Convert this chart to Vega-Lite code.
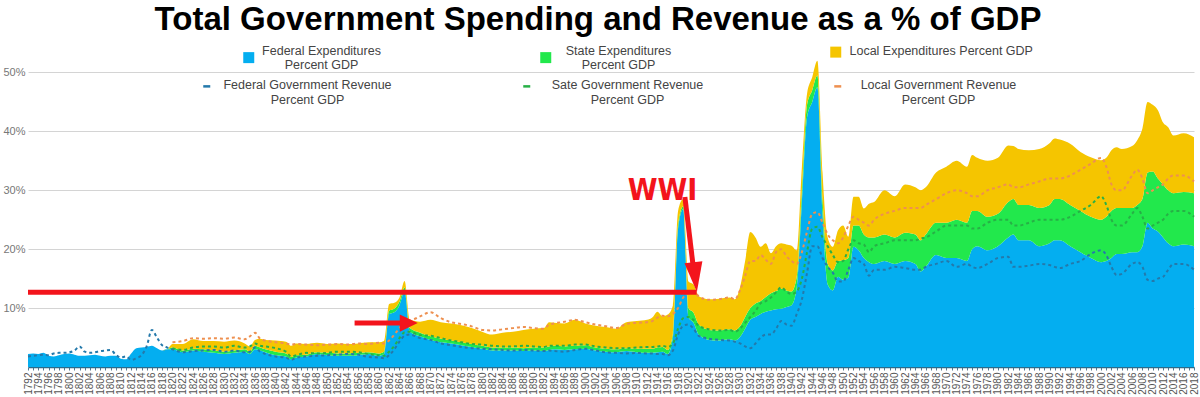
{
  "$schema": "https://vega.github.io/schema/vega-lite/v6.json",
  "width": 1166,
  "height": 324,
  "autosize": {"type": "none"},
  "padding": {"left": 28, "top": 43, "right": 6, "bottom": 30},
  "background": "white",
  "config": {"view": {"stroke": null}, "font": "Liberation Sans"},
  "title": {"text": "Total Government Spending and Revenue as a % of GDP", "font": "Liberation Sans", "fontSize": 33, "fontWeight": "bold", "color": "#000000", "anchor": "middle", "frame": "group", "offset": 6, "dx": -13},
  "datasets": {
    "seriesOrder": [{"series": "fed", "rank": 1}, {"series": "state", "rank": 2}, {"series": "local", "rank": 3}],
    "redLines": [
      {"year": 1792, "year2": 1921.6, "pct": 12.7, "pct2": 12.7},
      {"year": 1855.3, "year2": 1864.5, "pct": 7.45, "pct2": 7.45},
      {"year": 1919.32, "year2": 1920.9, "pct": 28.86, "pct2": 17.3}
    ],
    "redHeads": [
      {"year": 1865.8, "pct": 7.45, "dir": "right"},
      {"year": 1921.31, "pct": 15.26, "dir": "down"}
    ],
    "notes": [{"year": 1915.0, "pct": 29.9, "label": "WWI"}],
    "gov": [
      {"year":1792,"fed":2.2,"state":0,"local":0,"fedRev":1.8,"stateRev":null,"localRev":null},
      {"year":1793,"fed":2.3,"state":0,"local":0,"fedRev":1.9,"stateRev":null,"localRev":null},
      {"year":1794,"fed":2.2,"state":0,"local":0,"fedRev":2.0,"stateRev":null,"localRev":null},
      {"year":1795,"fed":2.4,"state":0,"local":0,"fedRev":2.1,"stateRev":null,"localRev":null},
      {"year":1796,"fed":1.9,"state":0,"local":0,"fedRev":2.0,"stateRev":null,"localRev":null},
      {"year":1797,"fed":1.8,"state":0,"local":0,"fedRev":2.3,"stateRev":null,"localRev":null},
      {"year":1798,"fed":2.0,"state":0,"local":0,"fedRev":2.4,"stateRev":null,"localRev":null},
      {"year":1799,"fed":2.2,"state":0,"local":0,"fedRev":2.4,"stateRev":null,"localRev":null},
      {"year":1800,"fed":2.3,"state":0,"local":0,"fedRev":2.5,"stateRev":null,"localRev":null},
      {"year":1801,"fed":2.1,"state":0,"local":0,"fedRev":2.8,"stateRev":null,"localRev":null},
      {"year":1802,"fed":1.9,"state":0,"local":0,"fedRev":3.5,"stateRev":null,"localRev":null},
      {"year":1803,"fed":1.9,"state":0,"local":0,"fedRev":2.6,"stateRev":null,"localRev":null},
      {"year":1804,"fed":2.0,"state":0,"local":0,"fedRev":2.4,"stateRev":null,"localRev":null},
      {"year":1805,"fed":2.1,"state":0,"local":0,"fedRev":2.5,"stateRev":null,"localRev":null},
      {"year":1806,"fed":1.9,"state":0,"local":0,"fedRev":2.7,"stateRev":null,"localRev":null},
      {"year":1807,"fed":1.8,"state":0,"local":0,"fedRev":2.8,"stateRev":null,"localRev":null},
      {"year":1808,"fed":1.9,"state":0,"local":0,"fedRev":2.9,"stateRev":null,"localRev":null},
      {"year":1809,"fed":1.9,"state":0,"local":0,"fedRev":2.1,"stateRev":null,"localRev":null},
      {"year":1810,"fed":1.4,"state":0,"local":0,"fedRev":1.6,"stateRev":null,"localRev":null},
      {"year":1811,"fed":1.3,"state":0,"local":0,"fedRev":1.8,"stateRev":null,"localRev":null},
      {"year":1812,"fed":2.3,"state":0,"local":0,"fedRev":1.2,"stateRev":null,"localRev":null},
      {"year":1813,"fed":3.2,"state":0,"local":0,"fedRev":1.5,"stateRev":null,"localRev":null},
      {"year":1814,"fed":3.3,"state":0,"local":0,"fedRev":2.0,"stateRev":null,"localRev":null},
      {"year":1815,"fed":3.4,"state":0,"local":0,"fedRev":3.5,"stateRev":null,"localRev":null},
      {"year":1816,"fed":3.6,"state":0,"local":0,"fedRev":6.3,"stateRev":null,"localRev":null},
      {"year":1817,"fed":3.2,"state":0,"local":0,"fedRev":5.0,"stateRev":null,"localRev":null},
      {"year":1818,"fed":2.8,"state":0,"local":0,"fedRev":3.7,"stateRev":null,"localRev":null},
      {"year":1819,"fed":3.0,"state":0,"local":0,"fedRev":3.3,"stateRev":null,"localRev":null},
      {"year":1820,"fed":3.0,"state":0.3,"local":0.6,"fedRev":3.0,"stateRev":3.2,"localRev":4.2},
      {"year":1822,"fed":2.5,"state":0.3,"local":1.1,"fedRev":2.5,"stateRev":2.9,"localRev":4.4},
      {"year":1824,"fed":2.8,"state":0.3,"local":1.6,"fedRev":2.7,"stateRev":3.3,"localRev":4.9},
      {"year":1826,"fed":2.6,"state":0.4,"local":1.4,"fedRev":2.8,"stateRev":3.5,"localRev":4.8},
      {"year":1828,"fed":2.4,"state":0.4,"local":1.6,"fedRev":2.9,"stateRev":3.5,"localRev":4.9},
      {"year":1830,"fed":2.2,"state":0.4,"local":1.7,"fedRev":2.6,"stateRev":3.3,"localRev":4.8},
      {"year":1832,"fed":2.4,"state":0.4,"local":1.7,"fedRev":2.8,"stateRev":3.6,"localRev":5.0},
      {"year":1834,"fed":2.6,"state":0.4,"local":1.0,"fedRev":2.5,"stateRev":3.3,"localRev":4.7},
      {"year":1835,"fed":2.2,"state":0.4,"local":0.9,"fedRev":2.6,"stateRev":3.5,"localRev":5.2},
      {"year":1836,"fed":3.0,"state":0.6,"local":1.0,"fedRev":3.3,"stateRev":4.0,"localRev":5.8},
      {"year":1837,"fed":2.8,"state":0.5,"local":1.5,"fedRev":2.6,"stateRev":3.6,"localRev":4.8},
      {"year":1838,"fed":2.5,"state":0.5,"local":1.6,"fedRev":2.2,"stateRev":3.5,"localRev":4.5},
      {"year":1840,"fed":2.0,"state":0.6,"local":1.9,"fedRev":1.8,"stateRev":3.2,"localRev":4.2},
      {"year":1842,"fed":1.8,"state":0.5,"local":2.0,"fedRev":1.6,"stateRev":2.6,"localRev":4.0},
      {"year":1843,"fed":1.3,"state":0.4,"local":1.9,"fedRev":1.2,"stateRev":1.8,"localRev":3.8},
      {"year":1844,"fed":1.6,"state":0.4,"local":2.0,"fedRev":1.6,"stateRev":2.0,"localRev":3.9},
      {"year":1846,"fed":1.8,"state":0.3,"local":1.8,"fedRev":1.8,"stateRev":2.4,"localRev":3.8},
      {"year":1848,"fed":2.2,"state":0.3,"local":1.6,"fedRev":1.9,"stateRev":2.3,"localRev":3.7},
      {"year":1850,"fed":2.0,"state":0.4,"local":1.5,"fedRev":2.0,"stateRev":2.4,"localRev":3.8},
      {"year":1852,"fed":1.9,"state":0.4,"local":1.7,"fedRev":2.1,"stateRev":2.6,"localRev":3.9},
      {"year":1854,"fed":1.9,"state":0.4,"local":1.6,"fedRev":2.2,"stateRev":2.6,"localRev":3.8},
      {"year":1856,"fed":2.0,"state":0.4,"local":1.6,"fedRev":2.1,"stateRev":2.5,"localRev":4.0},
      {"year":1858,"fed":2.2,"state":0.3,"local":1.7,"fedRev":1.7,"stateRev":2.2,"localRev":3.9},
      {"year":1860,"fed":1.9,"state":0.4,"local":1.9,"fedRev":1.6,"stateRev":2.0,"localRev":4.1},
      {"year":1861,"fed":2.2,"state":0.4,"local":1.8,"fedRev":1.5,"stateRev":1.9,"localRev":4.0},
      {"year":1862,"fed":9.0,"state":0.6,"local":1.1,"fedRev":2.0,"stateRev":2.6,"localRev":4.5},
      {"year":1863,"fed":9.3,"state":0.6,"local":1.0,"fedRev":3.0,"stateRev":3.6,"localRev":5.5},
      {"year":1864,"fed":10.5,"state":0.6,"local":0.7,"fedRev":4.3,"stateRev":4.9,"localRev":6.6},
      {"year":1865,"fed":12.8,"state":0.7,"local":1.1,"fedRev":5.3,"stateRev":5.9,"localRev":7.6},
      {"year":1866,"fed":6.0,"state":0.6,"local":1.4,"fedRev":5.5,"stateRev":6.0,"localRev":7.8},
      {"year":1868,"fed":5.2,"state":0.6,"local":1.9,"fedRev":4.9,"stateRev":5.4,"localRev":8.6},
      {"year":1870,"fed":4.6,"state":0.6,"local":2.8,"fedRev":4.6,"stateRev":5.3,"localRev":9.3},
      {"year":1872,"fed":4.2,"state":0.6,"local":2.8,"fedRev":4.0,"stateRev":4.9,"localRev":8.3},
      {"year":1874,"fed":4.0,"state":0.5,"local":2.9,"fedRev":3.7,"stateRev":4.5,"localRev":7.6},
      {"year":1876,"fed":3.7,"state":0.5,"local":2.9,"fedRev":3.4,"stateRev":4.2,"localRev":7.3},
      {"year":1878,"fed":3.4,"state":0.5,"local":2.7,"fedRev":3.2,"stateRev":3.9,"localRev":6.9},
      {"year":1880,"fed":3.1,"state":0.5,"local":2.4,"fedRev":3.1,"stateRev":3.8,"localRev":6.3},
      {"year":1882,"fed":2.8,"state":0.5,"local":2.2,"fedRev":3.0,"stateRev":3.6,"localRev":6.2},
      {"year":1884,"fed":2.8,"state":0.5,"local":2.5,"fedRev":2.9,"stateRev":3.5,"localRev":6.4},
      {"year":1886,"fed":2.8,"state":0.5,"local":2.7,"fedRev":2.8,"stateRev":3.5,"localRev":6.6},
      {"year":1888,"fed":2.7,"state":0.5,"local":3.1,"fedRev":2.9,"stateRev":3.6,"localRev":6.8},
      {"year":1890,"fed":2.8,"state":0.5,"local":3.2,"fedRev":2.8,"stateRev":3.5,"localRev":6.6},
      {"year":1892,"fed":2.7,"state":0.6,"local":3.3,"fedRev":2.7,"stateRev":3.4,"localRev":6.5},
      {"year":1893,"fed":2.9,"state":0.6,"local":4.1,"fedRev":2.8,"stateRev":3.6,"localRev":7.2},
      {"year":1894,"fed":3.0,"state":0.6,"local":3.9,"fedRev":2.7,"stateRev":3.6,"localRev":7.4},
      {"year":1896,"fed":2.9,"state":0.6,"local":3.9,"fedRev":2.6,"stateRev":3.6,"localRev":7.7},
      {"year":1898,"fed":3.0,"state":0.6,"local":4.4,"fedRev":2.9,"stateRev":3.8,"localRev":8.0},
      {"year":1900,"fed":3.1,"state":0.6,"local":3.7,"fedRev":3.1,"stateRev":3.8,"localRev":7.6},
      {"year":1902,"fed":2.8,"state":0.5,"local":3.7,"fedRev":2.8,"stateRev":3.5,"localRev":7.2},
      {"year":1904,"fed":2.6,"state":0.5,"local":3.7,"fedRev":2.5,"stateRev":3.3,"localRev":6.9},
      {"year":1906,"fed":2.5,"state":0.5,"local":3.5,"fedRev":2.4,"stateRev":3.2,"localRev":6.6},
      {"year":1908,"fed":2.7,"state":0.5,"local":4.4,"fedRev":2.3,"stateRev":3.2,"localRev":7.3},
      {"year":1910,"fed":2.5,"state":0.6,"local":4.7,"fedRev":2.4,"stateRev":3.3,"localRev":7.5},
      {"year":1912,"fed":2.4,"state":0.7,"local":4.9,"fedRev":2.3,"stateRev":3.4,"localRev":7.6},
      {"year":1913,"fed":2.4,"state":0.7,"local":5.3,"fedRev":2.3,"stateRev":3.4,"localRev":7.8},
      {"year":1914,"fed":2.5,"state":0.8,"local":6.1,"fedRev":2.2,"stateRev":3.5,"localRev":8.4},
      {"year":1915,"fed":2.6,"state":0.8,"local":5.2,"fedRev":2.2,"stateRev":3.6,"localRev":8.7},
      {"year":1916,"fed":2.2,"state":0.7,"local":6.0,"fedRev":2.0,"stateRev":3.4,"localRev":8.6},
      {"year":1917,"fed":5.0,"state":0.7,"local":4.8,"fedRev":2.8,"stateRev":4.0,"localRev":9.0},
      {"year":1918,"fed":23.5,"state":0.7,"local":2.3,"fedRev":5.5,"stateRev":6.5,"localRev":10.0},
      {"year":1919,"fed":26.8,"state":0.5,"local":1.2,"fedRev":7.0,"stateRev":8.3,"localRev":11.8},
      {"year":1920,"fed":8.5,"state":1.5,"local":4.5,"fedRev":7.2,"stateRev":8.5,"localRev":12.5},
      {"year":1921,"fed":7.5,"state":1.7,"local":4.8,"fedRev":6.5,"stateRev":8.0,"localRev":12.8},
      {"year":1922,"fed":5.5,"state":1.7,"local":4.8,"fedRev":5.3,"stateRev":7.0,"localRev":12.0},
      {"year":1924,"fed":4.6,"state":1.7,"local":5.2,"fedRev":4.8,"stateRev":6.4,"localRev":11.4},
      {"year":1926,"fed":4.5,"state":1.7,"local":5.4,"fedRev":4.6,"stateRev":6.2,"localRev":11.5},
      {"year":1928,"fed":4.7,"state":1.7,"local":5.4,"fedRev":4.5,"stateRev":6.3,"localRev":11.8},
      {"year":1929,"fed":4.5,"state":1.7,"local":5.3,"fedRev":4.3,"stateRev":6.0,"localRev":11.5},
      {"year":1930,"fed":5.1,"state":1.8,"local":6.6,"fedRev":4.0,"stateRev":6.5,"localRev":13.0},
      {"year":1931,"fed":6.5,"state":2.0,"local":9.5,"fedRev":3.5,"stateRev":7.5,"localRev":15.5},
      {"year":1932,"fed":8.0,"state":2.0,"local":12.9,"fedRev":3.2,"stateRev":8.5,"localRev":18.0},
      {"year":1933,"fed":8.5,"state":2.3,"local":11.2,"fedRev":4.0,"stateRev":9.5,"localRev":18.0},
      {"year":1934,"fed":9.0,"state":2.2,"local":9.2,"fedRev":5.0,"stateRev":10.8,"localRev":19.0},
      {"year":1935,"fed":9.4,"state":2.5,"local":9.1,"fedRev":5.5,"stateRev":11.2,"localRev":18.2},
      {"year":1936,"fed":9.6,"state":2.9,"local":6.8,"fedRev":5.5,"stateRev":11.8,"localRev":17.5},
      {"year":1937,"fed":9.8,"state":3.1,"local":7.6,"fedRev":6.5,"stateRev":12.7,"localRev":19.5},
      {"year":1938,"fed":9.9,"state":3.4,"local":7.7,"fedRev":7.8,"stateRev":13.5,"localRev":20.0},
      {"year":1939,"fed":10.2,"state":2.8,"local":7.8,"fedRev":7.2,"stateRev":12.8,"localRev":18.8},
      {"year":1940,"fed":10.5,"state":2.3,"local":7.8,"fedRev":7.0,"stateRev":12.4,"localRev":18.0},
      {"year":1941,"fed":13.5,"state":1.8,"local":4.5,"fedRev":9.0,"stateRev":12.8,"localRev":17.5},
      {"year":1942,"fed":28.0,"state":2.0,"local":4.0,"fedRev":11.5,"stateRev":15.0,"localRev":19.5},
      {"year":1943,"fed":42.4,"state":2.1,"local":1.9,"fedRev":16.0,"stateRev":19.5,"localRev":23.0},
      {"year":1944,"fed":45.0,"state":2.0,"local":2.2,"fedRev":20.5,"stateRev":23.5,"localRev":26.0},
      {"year":1945,"fed":47.5,"state":2.0,"local":2.5,"fedRev":20.5,"stateRev":23.8,"localRev":26.3},
      {"year":1946,"fed":26.0,"state":2.5,"local":4.5,"fedRev":18.5,"stateRev":22.0,"localRev":24.5},
      {"year":1947,"fed":14.0,"state":3.5,"local":4.5,"fedRev":17.0,"stateRev":20.5,"localRev":22.5},
      {"year":1948,"fed":13.0,"state":3.4,"local":4.0,"fedRev":16.0,"stateRev":19.0,"localRev":21.5},
      {"year":1949,"fed":15.3,"state":2.7,"local":5.2,"fedRev":14.5,"stateRev":17.8,"localRev":21.0},
      {"year":1950,"fed":14.8,"state":3.3,"local":5.9,"fedRev":14.5,"stateRev":18.0,"localRev":22.0},
      {"year":1951,"fed":15.2,"state":3.3,"local":3.6,"fedRev":16.5,"stateRev":20.0,"localRev":24.0},
      {"year":1952,"fed":20.4,"state":3.6,"local":4.9,"fedRev":18.5,"stateRev":21.5,"localRev":25.5},
      {"year":1953,"fed":19.8,"state":4.2,"local":4.9,"fedRev":18.0,"stateRev":21.0,"localRev":25.0},
      {"year":1954,"fed":18.5,"state":4.0,"local":4.4,"fedRev":17.5,"stateRev":20.8,"localRev":24.5},
      {"year":1955,"fed":17.8,"state":4.2,"local":5.7,"fedRev":15.5,"stateRev":19.5,"localRev":24.0},
      {"year":1956,"fed":17.5,"state":4.5,"local":6.0,"fedRev":16.5,"stateRev":20.5,"localRev":25.0},
      {"year":1958,"fed":18.0,"state":4.5,"local":7.5,"fedRev":16.5,"stateRev":21.0,"localRev":26.0},
      {"year":1960,"fed":17.5,"state":4.5,"local":7.0,"fedRev":17.0,"stateRev":21.5,"localRev":26.5},
      {"year":1962,"fed":18.0,"state":4.8,"local":8.2,"fedRev":16.8,"stateRev":21.5,"localRev":27.0},
      {"year":1964,"fed":17.5,"state":5.0,"local":8.0,"fedRev":16.5,"stateRev":21.5,"localRev":27.0},
      {"year":1965,"fed":16.2,"state":5.3,"local":8.5,"fedRev":16.5,"stateRev":21.8,"localRev":27.0},
      {"year":1966,"fed":17.0,"state":5.5,"local":8.0,"fedRev":17.0,"stateRev":22.0,"localRev":27.5},
      {"year":1968,"fed":19.0,"state":5.5,"local":8.5,"fedRev":17.5,"stateRev":23.0,"localRev":28.5},
      {"year":1970,"fed":18.5,"state":6.0,"local":9.5,"fedRev":18.0,"stateRev":24.0,"localRev":29.5},
      {"year":1972,"fed":18.5,"state":6.5,"local":10.0,"fedRev":17.0,"stateRev":24.0,"localRev":30.0},
      {"year":1974,"fed":18.0,"state":6.5,"local":9.5,"fedRev":17.5,"stateRev":24.0,"localRev":29.5},
      {"year":1975,"fed":20.0,"state":6.5,"local":9.5,"fedRev":17.0,"stateRev":23.5,"localRev":29.0},
      {"year":1976,"fed":20.5,"state":6.0,"local":9.0,"fedRev":16.8,"stateRev":23.5,"localRev":29.0},
      {"year":1978,"fed":19.8,"state":5.7,"local":9.5,"fedRev":17.5,"stateRev":24.5,"localRev":30.0},
      {"year":1980,"fed":20.5,"state":5.5,"local":9.5,"fedRev":18.5,"stateRev":25.0,"localRev":30.5},
      {"year":1982,"fed":22.0,"state":6.0,"local":9.6,"fedRev":18.7,"stateRev":25.0,"localRev":31.0},
      {"year":1983,"fed":22.5,"state":6.0,"local":9.0,"fedRev":17.0,"stateRev":24.0,"localRev":30.5},
      {"year":1984,"fed":21.5,"state":6.0,"local":9.5,"fedRev":17.0,"stateRev":24.0,"localRev":30.5},
      {"year":1986,"fed":21.5,"state":6.0,"local":9.3,"fedRev":17.2,"stateRev":24.5,"localRev":31.0},
      {"year":1988,"fed":20.5,"state":6.5,"local":10.0,"fedRev":17.5,"stateRev":25.0,"localRev":31.5},
      {"year":1990,"fed":21.0,"state":6.5,"local":10.5,"fedRev":17.3,"stateRev":25.0,"localRev":32.0},
      {"year":1991,"fed":21.5,"state":7.0,"local":10.3,"fedRev":17.0,"stateRev":25.0,"localRev":32.0},
      {"year":1992,"fed":21.5,"state":7.0,"local":10.1,"fedRev":16.8,"stateRev":25.0,"localRev":32.0},
      {"year":1994,"fed":20.5,"state":7.0,"local":10.4,"fedRev":17.5,"stateRev":25.5,"localRev":32.5},
      {"year":1996,"fed":19.5,"state":7.0,"local":10.0,"fedRev":18.0,"stateRev":26.5,"localRev":33.5},
      {"year":1998,"fed":18.5,"state":7.0,"local":10.1,"fedRev":19.2,"stateRev":27.5,"localRev":34.5},
      {"year":2000,"fed":17.8,"state":7.2,"local":10.1,"fedRev":19.8,"stateRev":29.0,"localRev":35.5},
      {"year":2001,"fed":18.0,"state":7.5,"local":10.0,"fedRev":19.0,"stateRev":27.5,"localRev":34.0},
      {"year":2002,"fed":18.5,"state":8.0,"local":10.3,"fedRev":17.0,"stateRev":25.0,"localRev":31.0},
      {"year":2003,"fed":19.2,"state":7.8,"local":10.3,"fedRev":15.6,"stateRev":24.0,"localRev":30.0},
      {"year":2004,"fed":19.2,"state":7.8,"local":10.0,"fedRev":15.8,"stateRev":24.0,"localRev":30.0},
      {"year":2006,"fed":19.5,"state":7.5,"local":10.5,"fedRev":17.5,"stateRev":26.0,"localRev":32.5},
      {"year":2007,"fed":19.5,"state":8.0,"local":11.0,"fedRev":17.8,"stateRev":27.0,"localRev":33.5},
      {"year":2008,"fed":20.5,"state":8.0,"local":12.0,"fedRev":17.0,"stateRev":25.5,"localRev":32.0},
      {"year":2009,"fed":24.5,"state":8.5,"local":12.0,"fedRev":14.8,"stateRev":23.5,"localRev":29.5},
      {"year":2010,"fed":23.5,"state":9.7,"local":11.3,"fedRev":14.6,"stateRev":24.0,"localRev":30.0},
      {"year":2011,"fed":23.0,"state":9.0,"local":11.6,"fedRev":15.0,"stateRev":24.5,"localRev":30.5},
      {"year":2012,"fed":22.0,"state":9.0,"local":10.5,"fedRev":15.3,"stateRev":25.0,"localRev":31.0},
      {"year":2013,"fed":21.0,"state":9.0,"local":10.7,"fedRev":16.5,"stateRev":26.0,"localRev":32.0},
      {"year":2014,"fed":20.5,"state":9.0,"local":9.8,"fedRev":17.5,"stateRev":26.5,"localRev":32.5},
      {"year":2016,"fed":20.8,"state":8.9,"local":10.0,"fedRev":17.5,"stateRev":26.5,"localRev":32.5},
      {"year":2018,"fed":20.5,"state":9.0,"local":9.5,"fedRev":16.5,"stateRev":25.5,"localRev":31.5}
    ]
  },
  "layer": [
    {
      "data": {"name": "gov"},
      "transform": [
        {"fold": ["fed", "state", "local"], "as": ["series", "pct"]},
        {"lookup": "series", "from": {"data": {"name": "seriesOrder"}, "key": "series", "fields": ["rank"]}}
      ],
      "mark": {"type": "area", "interpolate": "monotone"},
      "encoding": {
        "x": {
          "field": "year", "type": "quantitative", "title": null,
          "scale": {"domain": [1792, 2018], "nice": false, "zero": false},
          "axis": {
            "tickCount": 226,
            "labelExpr": "datum.value % 2 === 0 ? format(datum.value, 'd') : ''",
            "labelAngle": 270, "labelAlign": "right", "labelBaseline": "middle",
            "labelOverlap": false, "labelFlush": false, "labelPadding": 2,
            "labelFontSize": 10, "labelColor": "#555555", "labelFont": "Liberation Sans",
            "ticks": true, "tickSize": 3, "tickColor": "#557a90", "tickWidth": 1,
            "domain": true, "domainColor": "#2b6c8c", "domainWidth": 1.5, "grid": false
          }
        },
        "y": {
          "field": "pct", "type": "quantitative", "title": null, "stack": "zero",
          "scale": {"domain": [0, 55], "nice": false},
          "axis": {
            "values": [10, 20, 30, 40, 50],
            "labelExpr": "datum.value + '%'",
            "grid": true, "gridColor": "#d4d4d4", "gridWidth": 1,
            "domain": false, "ticks": false, "labelPadding": 3,
            "labelFontSize": 11, "labelColor": "#777777", "labelFont": "Liberation Sans"
          }
        },
        "color": {
          "field": "series", "type": "nominal",
          "scale": {"domain": ["fed", "state", "local"], "range": ["#04aef0", "#22e84c", "#f5c500"]},
          "legend": {
            "title": null, "orient": "none", "legendX": 214.5, "legendY": 8,
            "direction": "horizontal", "columns": 3, "columnPadding": 158, "padding": 0,
            "symbolType": "square", "symbolSize": 121, "symbolStrokeWidth": 0, "symbolOpacity": 1,
            "labelFont": "Liberation Sans", "labelFontSize": 12.5, "labelColor": "#444444",
            "labelAlign": "center", "labelOffset": 66.5, "labelLimit": 400,
            "labelExpr": "datum.value == 'fed' ? ['Federal Expenditures', 'Percent GDP'] : datum.value == 'state' ? ['State Expenditures', 'Percent GDP'] : ['Local Expenditures Percent GDP', '']",
            "encode": {
              "labels": {"update": {
                "align": {"signal": "datum.value == 'local' ? 'left' : 'center'"},
                "dx": {"signal": "datum.value == 'local' ? -59 : 0"},
                "dy": {"value": -7},
                "lineHeight": {"value": 14.5}
              }},
              "symbols": {"update": {
                "shape": {"signal": "datum.value == 'local' ? 'M -1 -2 L 1 -2 L 1 0 L -1 0 Z' : 'square'"}
              }}
            }
          }
        },
        "order": {"field": "rank", "type": "quantitative"}
      }
    },
    {
      "data": {"name": "gov"},
      "transform": [{"fold": ["fedRev", "stateRev", "localRev"], "as": ["rseries", "rpct"]}],
      "mark": {"type": "line", "interpolate": "monotone", "strokeDash": [3, 3], "strokeWidth": 2},
      "encoding": {
        "x": {"field": "year", "type": "quantitative", "title": null},
        "y": {"field": "rpct", "type": "quantitative", "title": null},
        "stroke": {
          "field": "rseries", "type": "nominal",
          "scale": {"domain": ["fedRev", "stateRev", "localRev"], "range": ["#2479ab", "#27b046", "#ee9050"]},
          "legend": {
            "title": null, "orient": "none", "legendX": 172.5, "legendY": 37,
            "direction": "horizontal", "columns": 3, "columnPadding": 125, "padding": 0,
            "symbolType": "stroke", "symbolSize": 49, "symbolStrokeWidth": 2.5, "symbolDash": [10, 0],
            "labelFont": "Liberation Sans", "labelFontSize": 12.5, "labelColor": "#444444",
            "labelAlign": "center", "labelOffset": 94.5, "labelLimit": 400,
            "labelExpr": "datum.value == 'fedRev' ? ['Federal Government Revenue', 'Percent GDP'] : datum.value == 'stateRev' ? ['Sate Government Revenue', 'Percent GDP'] : ['Local Government Revenue', 'Percent GDP']",
            "encode": {
              "labels": {"update": {
                "dy": {"value": -1.5},
                "lineHeight": {"value": 15.5}
              }}
            }
          }
        }
      }
    },
    {
      "data": {"name": "redLines"},
      "mark": {"type": "rule", "color": "#f3141c", "strokeWidth": 5},
      "encoding": {
        "x": {"field": "year", "type": "quantitative", "title": null},
        "x2": {"field": "year2"},
        "y": {"field": "pct", "type": "quantitative", "title": null},
        "y2": {"field": "pct2"}
      }
    },
    {
      "data": {"name": "redHeads"},
      "mark": {"type": "point", "filled": true, "color": "#f3141c", "opacity": 1, "size": 900, "strokeWidth": 0},
      "encoding": {
        "x": {"field": "year", "type": "quantitative", "title": null},
        "y": {"field": "pct", "type": "quantitative", "title": null},
        "shape": {
          "field": "dir", "type": "nominal", "legend": null,
          "scale": {"domain": ["right", "down"], "range": ["M -0.6 -0.57 L -0.6 0.57 L 0.6 0 Z", "M -0.711 -0.925 L 0.481 -1.062 L 0.115 0.993 Z"]}
        }
      }
    },
    {
      "data": {"name": "notes"},
      "mark": {"type": "text", "color": "#f3141c", "font": "Liberation Sans Narrow, DejaVu Sans Condensed, sans-serif", "fontWeight": "bold", "fontSize": 30, "align": "center", "baseline": "middle"},
      "encoding": {
        "x": {"field": "year", "type": "quantitative", "title": null},
        "y": {"field": "pct", "type": "quantitative", "title": null},
        "text": {"field": "label"}
      }
    }
  ]
}
